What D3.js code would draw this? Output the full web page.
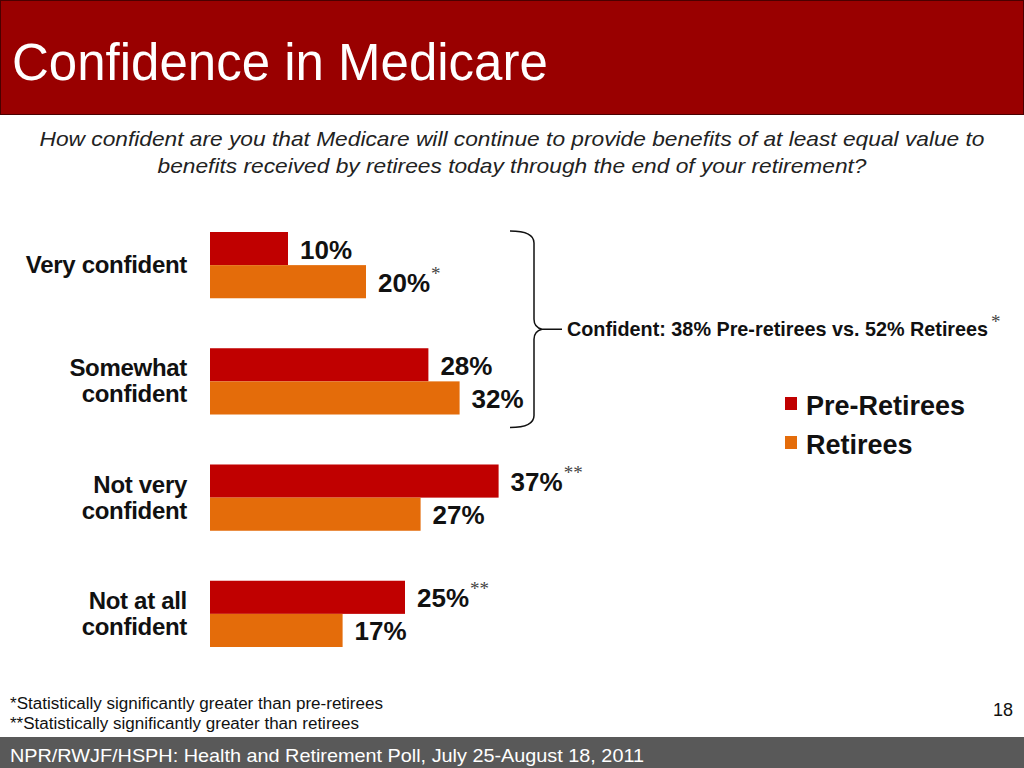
<!DOCTYPE html>
<html><head><meta charset="utf-8">
<script src="https://cdn.jsdelivr.net/npm/d3@7"></script>
<style>html,body{margin:0;padding:0;background:#fff;overflow:hidden}</style>
</head><body>
<script>
const title = "Confidence in Medicare";
const subtitleLines = ["How confident are you that Medicare will continue to provide benefits of at least equal value to",
                       "benefits received by retirees today through the end of your retirement?"];
const categories = ["Very confident", "Somewhat confident", "Not very confident", "Not at all confident"];
const categoryLines = [["Very confident"], ["Somewhat", "confident"], ["Not very", "confident"], ["Not at all", "confident"]];
const seriesNames = ["Pre-Retirees", "Retirees"];
const preRetirees = [10, 28, 37, 25];
const retirees = [20, 32, 27, 17];
const preMarks = ["", "", "**", "**"];
const retMarks = ["*", "", "", ""];
const colors = ["#C00000", "#E46C0A"];
const bracketText = "Confident: 38% Pre-retirees vs. 52% Retirees";
const bracketMark = "*";
const footnotes = ["*Statistically significantly greater than pre-retirees", "**Statistically significantly greater than retirees"];
const pageNumber = "18";
const source = "NPR/RWJF/HSPH: Health and Retirement Poll, July 25-August 18, 2011";

const W = 1024, H = 768;
const svg = d3.select("body").append("svg").attr("width", W).attr("height", H)
  .style("font-family", "Arial, 'Liberation Sans', sans-serif");

// title bar
svg.append("rect").attr("x", 0.5).attr("y", 0.5).attr("width", W - 1).attr("height", 114)
  .attr("fill", "#990000").attr("stroke", "#4a0000").attr("stroke-width", 1);
svg.append("text").attr("x", 12).attr("y", 80).attr("fill", "#fff").attr("font-size", 51).text(title);

// subtitle
const subLen = [945, 709];
svg.selectAll("text.sub").data(subtitleLines).join("text").attr("class", "sub")
  .attr("x", 512).attr("y", (d, i) => 146 + i * 27).attr("text-anchor", "middle")
  .attr("font-size", 21).attr("font-style", "italic").attr("fill", "#222")
  .attr("textLength", (d, i) => subLen[i]).attr("lengthAdjust", "spacingAndGlyphs").text(d => d);

// scales
const x = d3.scaleLinear().domain([0, 40]).range([210, 522]);
const y = d3.scaleBand().domain(categories).range([232, 647]).paddingInner(0.43).paddingOuter(0);
const ySub = d3.scaleBand().domain(seriesNames).range([0, y.bandwidth()]);

const rows = categories.map((c, i) => ({ c, i, vals: [preRetirees[i], retirees[i]], marks: [preMarks[i], retMarks[i]] }));
const g = svg.selectAll("g.cat").data(rows).join("g").attr("class", "cat")
  .attr("transform", d => `translate(0,${y(d.c)})`);

const bars = g.selectAll("g.bar").data(d => d.vals.map((v, k) => ({ v, k, mark: d.marks[k] })))
  .join("g").attr("class", "bar");
bars.append("rect")
  .attr("x", x(0)).attr("y", d => ySub(seriesNames[d.k]))
  .attr("width", d => x(d.v) - x(0)).attr("height", ySub.bandwidth())
  .attr("fill", d => colors[d.k]);
const lbl = bars.append("text")
  .attr("x", d => x(d.v) + 12).attr("y", d => ySub(seriesNames[d.k]) + ySub.bandwidth() / 2 + 10)
  .attr("font-size", 26).attr("font-weight", "bold").attr("fill", "#111");
lbl.append("tspan").text(d => d.v + "%");
lbl.append("tspan").attr("font-family", "'Liberation Serif', serif").attr("font-weight", "normal")
  .attr("font-size", 19).attr("fill", "#444").attr("dx", 1).attr("dy", -12).text(d => d.mark);

// category labels
g.each(function (d) {
  const lines = categoryLines[d.i];
  const cy = y.bandwidth() / 2;
  const t = d3.select(this).append("text").attr("text-anchor", "end").attr("font-size", 24)
    .attr("font-weight", "bold").attr("letter-spacing", -0.3).attr("fill", "#111");
  lines.forEach((ln, j) => {
    t.append("tspan").attr("x", 187).attr("y", cy + 8 - 13 * (lines.length - 1) + j * 26).text(ln);
  });
});

// bracket
const bTop = y(categories[0]) - 1, bBot = y(categories[1]) + y.bandwidth() + 13;
const bMid = (bTop + bBot) / 2;
svg.append("path")
  .attr("d", `M510,${bTop} Q534,${bTop} 534,${bTop + 12} L534,${bMid - 10} Q534,${bMid - 2} 542,${bMid} Q534,${bMid + 2} 534,${bMid + 10} L534,${bBot - 12} Q534,${bBot} 510,${bBot} M542,${bMid} L562,${bMid}`)
  .attr("fill", "none").attr("stroke", "#111").attr("stroke-width", 1.5);
const bt = svg.append("text").attr("x", 567).attr("y", bMid + 7).attr("font-size", 19.8)
  .attr("font-weight", "bold").attr("fill", "#111");
bt.append("tspan").text(bracketText);
bt.append("tspan").attr("font-family", "'Liberation Serif', serif").attr("font-weight", "normal")
  .attr("font-size", 19).attr("fill", "#444").attr("dx", 3).attr("dy", -8).text(bracketMark);

// legend
const leg = svg.selectAll("g.leg").data(seriesNames).join("g").attr("class", "leg")
  .attr("transform", (d, i) => `translate(785,${397 + i * 39})`);
leg.append("rect").attr("width", 12).attr("height", 13).attr("fill", (d, i) => colors[i]);
leg.append("text").attr("x", 21).attr("y", 18).attr("font-size", 27).attr("font-weight", "bold")
  .attr("fill", "#111").text(d => d);

// footnotes
svg.selectAll("text.fn").data(footnotes).join("text").attr("class", "fn")
  .attr("x", 10).attr("y", (d, i) => 709 + i * 20).attr("font-size", 16).attr("fill", "#111")
  .attr("textLength", (d, i) => i === 0 ? 373 : 349).attr("lengthAdjust", "spacingAndGlyphs").text(d => d);
svg.append("text").attr("x", 1013).attr("y", 716).attr("text-anchor", "end").attr("font-size", 18)
  .attr("fill", "#111").text(pageNumber);

// footer
svg.append("rect").attr("x", 0).attr("y", 737).attr("width", W).attr("height", H - 737).attr("fill", "#595959");
svg.append("text").attr("x", 10).attr("y", 762).attr("font-size", 19).attr("fill", "#fff")
  .attr("textLength", 634).attr("lengthAdjust", "spacingAndGlyphs").text(source);
</script>
</body></html>
